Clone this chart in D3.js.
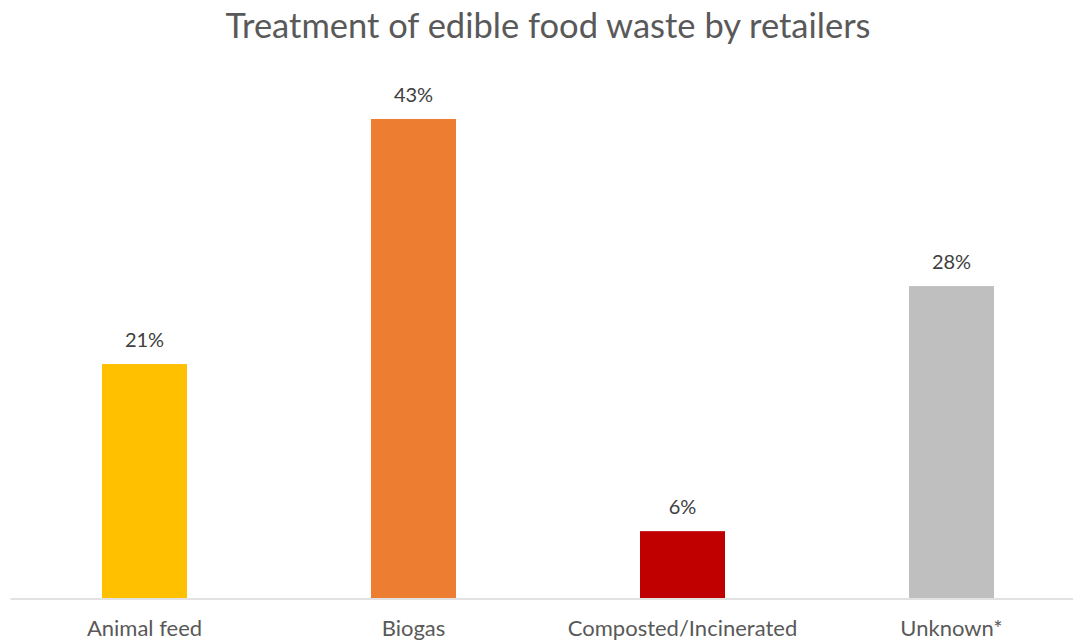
<!DOCTYPE html>
<html>
<head>
<meta charset="utf-8">
<script src="https://cdn.jsdelivr.net/npm/d3@7"></script>
<style>
  html, body { margin: 0; padding: 0; background: #fff; }
  svg { display: block; font-family: Lato, "Open Sans", sans-serif; }
</style>
</head>
<body>
<svg id="chart" width="1073" height="643"></svg>
<script>
// Treatment of edible food waste by retailers (share, %)
const categories = ["Animal feed", "Biogas", "Composted/Incinerated", "Unknown*"];
const values = [21, 43, 6, 28];
const barColors = ["#FFC000", "#ED7D31", "#C00000", "#BFBFBF"];
const valueLabels = ["21%", "43%", "6%", "28%"];
const title = "Treatment of edible food waste by retailers";

const svg = d3.select("#chart");
const plot = { left: 10, right: 1086, top: 41, bottom: 598 };

const x = d3.scaleBand()
  .domain(categories)
  .range([plot.left, plot.right])
  .paddingInner(0.684)
  .paddingOuter(0.342);

const y = d3.scaleLinear()
  .domain([0, 50])
  .range([plot.bottom, plot.top]);

// Title
svg.append("text")
  .attr("x", (plot.left + plot.right) / 2)
  .attr("y", 38)
  .attr("text-anchor", "middle")
  .attr("fill", "#595959")
  .attr("font-size", 34.5)
  .text(title);

// Bars
svg.append("g")
  .selectAll("rect")
  .data(values)
  .join("rect")
  .attr("x", (d, i) => x(categories[i]))
  .attr("y", d => y(d))
  .attr("width", x.bandwidth())
  .attr("height", d => y(0) - y(d))
  .attr("fill", (d, i) => barColors[i]);

// Value labels
svg.append("g")
  .selectAll("text")
  .data(values)
  .join("text")
  .attr("x", (d, i) => x(categories[i]) + x.bandwidth() / 2)
  .attr("y", d => y(d) - 17)
  .attr("text-anchor", "middle")
  .attr("fill", "#404040")
  .attr("font-size", 20)
  .text((d, i) => valueLabels[i]);

// Category axis
const xAxis = svg.append("g")
  .attr("transform", `translate(0,${plot.bottom + 0.5})`)
  .call(d3.axisBottom(x).tickSize(0).tickPadding(22));
xAxis.select(".domain").attr("stroke", "#D9D9D9").attr("stroke-width", 1.3);
xAxis.selectAll("text")
  .attr("fill", "#595959")
  .attr("font-size", 22)
  .attr("font-family", "Lato, 'Open Sans', sans-serif");
</script>
</body>
</html>
